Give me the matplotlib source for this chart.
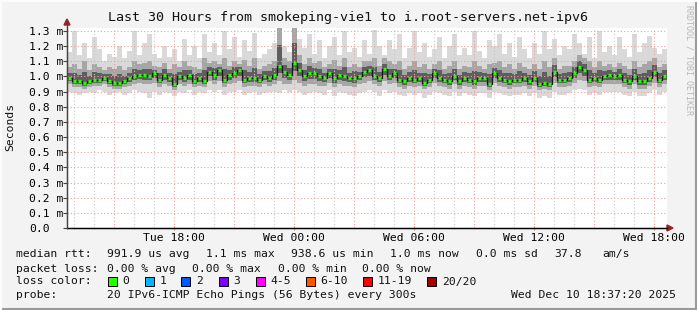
import matplotlib
matplotlib.use("Agg")
import matplotlib.pyplot as plt
import numpy as np
from matplotlib.patches import Rectangle, Polygon

# smokeping: 30 hours, one column per 15 minutes (values in ms)
# x axis is hours since Tue 12:40
median = [0.99, 0.97, 0.97, 0.96, 0.97, 0.98, 0.98, 0.99, 0.97, 0.96, 0.96, 0.97, 0.99, 1.00, 1.01, 1.01, 1.00, 1.02, 0.98, 1.01,
          0.99, 0.95, 1.00, 0.99, 1.01, 0.97, 0.99, 0.97, 1.03, 1.01, 1.04, 0.98, 1.01, 1.02, 1.04, 0.98, 0.99, 0.99, 0.98, 1.00,
          0.99, 1.01, 1.07, 1.03, 1.01, 1.09, 1.04, 1.00, 1.02, 1.02, 1.00, 0.99, 1.02, 0.99, 1.01, 1.00, 0.99, 0.99, 1.00, 1.03,
          1.04, 1.00, 0.99, 1.05, 1.00, 1.02, 0.98, 0.97, 0.99, 0.98, 0.99, 0.96, 0.98, 1.02, 0.99, 0.98, 0.97, 1.00, 0.97, 0.99,
          0.98, 0.97, 0.99, 0.99, 0.95, 1.02, 0.99, 0.98, 0.97, 0.98, 0.98, 0.99, 0.97, 0.99, 0.95, 0.96, 0.95, 1.03, 0.98, 0.98,
          0.99, 1.02, 1.06, 1.04, 0.98, 0.99, 0.98, 1.00, 1.01, 1.00, 1.01, 0.98, 0.97, 1.00, 0.97, 0.97, 0.99, 1.03, 0.98, 1.00]

smoke_max = [1.16, 1.30, 1.14, 1.22, 1.12, 1.26, 1.18, 1.10, 1.15, 1.13, 1.20, 1.12, 1.17, 1.30, 1.14, 1.22, 1.28, 1.15, 1.12, 1.20,
             1.13, 1.18, 1.10, 1.25, 1.14, 1.20, 1.12, 1.28, 1.16, 1.22, 1.14, 1.30, 1.18, 1.26, 1.13, 1.24, 1.17, 1.29, 1.12, 1.15,
             1.18, 1.22, 1.35, 1.20, 1.16, 1.35, 1.25, 1.19, 1.28, 1.15, 1.24, 1.12, 1.20, 1.26, 1.14, 1.30, 1.16, 1.19, 1.13, 1.24,
             1.15, 1.31, 1.20, 1.14, 1.24, 1.18, 1.28, 1.12, 1.19, 1.30, 1.16, 1.22, 1.13, 1.18, 1.26, 1.12, 1.20, 1.28, 1.14, 1.19,
             1.14, 1.30, 1.17, 1.12, 1.24, 1.20, 1.28, 1.15, 1.22, 1.13, 1.26, 1.18, 1.12, 1.22, 1.15, 1.30, 1.18, 1.25, 1.14, 1.20,
             1.18, 1.28, 1.22, 1.15, 1.26, 1.12, 1.30, 1.16, 1.20, 1.14, 1.26, 1.18, 1.13, 1.28, 1.16, 1.22, 1.27, 1.19, 1.15, 1.18]

smoke_hi = [1.06, 1.08, 1.05, 1.10, 1.04, 1.08, 1.06, 1.04, 1.06, 1.05, 1.07, 1.04, 1.06, 1.10, 1.08, 1.09, 1.10, 1.07, 1.06, 1.09,
            1.05, 1.08, 1.06, 1.10, 1.07, 1.06, 1.05, 1.12, 1.09, 1.10, 1.08, 1.12, 1.07, 1.10, 1.08, 1.11, 1.07, 1.12, 1.05, 1.07,
            1.08, 1.10, 1.35, 1.12, 1.10, 1.35, 1.14, 1.08, 1.12, 1.09, 1.10, 1.06, 1.08, 1.11, 1.07, 1.12, 1.06, 1.08, 1.06, 1.10,
            1.10, 1.12, 1.07, 1.12, 1.10, 1.08, 1.10, 1.05, 1.07, 1.10, 1.06, 1.08, 1.05, 1.08, 1.10, 1.05, 1.07, 1.10, 1.05, 1.07,
            1.06, 1.10, 1.07, 1.05, 1.08, 1.09, 1.10, 1.06, 1.08, 1.05, 1.09, 1.06, 1.05, 1.08, 1.05, 1.10, 1.06, 1.12, 1.05, 1.07,
            1.07, 1.10, 1.14, 1.12, 1.10, 1.06, 1.10, 1.07, 1.08, 1.06, 1.09, 1.07, 1.05, 1.10, 1.06, 1.08, 1.10, 1.12, 1.06, 1.08]

smoke_lo = [0.95, 0.93, 0.93, 0.92, 0.93, 0.94, 0.94, 0.95, 0.93, 0.92, 0.92, 0.93, 0.94, 0.95, 0.96, 0.95, 0.95, 0.96, 0.93, 0.95,
            0.94, 0.91, 0.95, 0.94, 0.95, 0.93, 0.94, 0.93, 0.97, 0.95, 0.97, 0.93, 0.95, 0.96, 0.97, 0.93, 0.94, 0.94, 0.93, 0.95,
            0.94, 0.95, 0.97, 0.95, 0.95, 0.98, 0.96, 0.94, 0.95, 0.95, 0.94, 0.94, 0.96, 0.93, 0.95, 0.94, 0.94, 0.93, 0.95, 0.96,
            0.97, 0.95, 0.94, 0.97, 0.95, 0.96, 0.93, 0.92, 0.94, 0.93, 0.94, 0.92, 0.93, 0.96, 0.94, 0.93, 0.92, 0.95, 0.92, 0.94,
            0.93, 0.92, 0.94, 0.94, 0.91, 0.96, 0.94, 0.93, 0.92, 0.93, 0.93, 0.94, 0.92, 0.94, 0.91, 0.92, 0.91, 0.96, 0.93, 0.93,
            0.94, 0.96, 0.98, 0.97, 0.93, 0.94, 0.93, 0.95, 0.95, 0.95, 0.95, 0.93, 0.92, 0.95, 0.92, 0.92, 0.94, 0.96, 0.93, 0.95]

smoke_min = [0.90, 0.89, 0.88, 0.89, 0.90, 0.89, 0.91, 0.90, 0.88, 0.89, 0.90, 0.88, 0.89, 0.91, 0.90, 0.89, 0.86, 0.90, 0.88, 0.90,
             0.89, 0.87, 0.90, 0.89, 0.91, 0.88, 0.90, 0.89, 0.91, 0.90, 0.91, 0.88, 0.90, 0.90, 0.91, 0.88, 0.89, 0.90, 0.88, 0.89,
             0.90, 0.90, 0.89, 0.91, 0.90, 0.91, 0.90, 0.88, 0.89, 0.90, 0.89, 0.88, 0.91, 0.87, 0.90, 0.89, 0.88, 0.87, 0.89, 0.90,
             0.91, 0.90, 0.87, 0.91, 0.89, 0.90, 0.88, 0.87, 0.89, 0.88, 0.89, 0.86, 0.88, 0.90, 0.89, 0.88, 0.87, 0.90, 0.87, 0.89,
             0.88, 0.87, 0.89, 0.89, 0.86, 0.90, 0.89, 0.88, 0.87, 0.88, 0.88, 0.89, 0.87, 0.89, 0.86, 0.87, 0.86, 0.90, 0.88, 0.88,
             0.89, 0.91, 0.92, 0.91, 0.88, 0.89, 0.88, 0.90, 0.90, 0.90, 0.90, 0.88, 0.87, 0.90, 0.87, 0.87, 0.89, 0.91, 0.88, 0.90]

step_h = 0.25
xtick_pos = [5.333, 11.333, 17.333, 23.333, 29.333]
xtick_labels = ["Tue 18:00", "Wed 00:00", "Wed 06:00", "Wed 12:00", "Wed 18:00"]
ytick_vals = [0.0, 0.1, 0.2, 0.3, 0.4, 0.5, 0.6, 0.7, 0.8, 0.9, 1.0, 1.1, 1.2, 1.3]
ytick_labels = ["0.0"] + ["%.1f m" % v for v in ytick_vals[1:]]

loss_labels = ["0", "1", "2", "3", "4-5", "6-10", "11-19", "20/20"]
loss_colors = ["#26ff00", "#00b8ff", "#0059ff", "#7e00ff", "#ff00ff", "#ff5500", "#ff0000", "#a10000"]

W, H = 697, 310
mono = "DejaVu Sans Mono"
fig = plt.figure(figsize=(W / 100, H / 100), dpi=100)
fig.patch.set_facecolor("#f3f3f3")

def fx(px):
    return px / W

def fy(py):
    return 1 - py / H

ax = fig.add_axes([fx(67), fy(228), fx(600), 200 / H])
ax.set_facecolor("white")
ax.set_xlim(0, 30)
ax.set_ylim(0, 1.32)

xs = np.arange(len(median)) * step_h
med = np.array(median)
lo_in = np.array(smoke_lo)
hi_in = np.array(smoke_hi)

# smoke layers, light to dark
ax.bar(xs, np.array(smoke_max) - np.array(smoke_min), bottom=smoke_min, width=step_h,
       align="edge", color="#d9d9d9", linewidth=0, zorder=2)
ax.bar(xs, hi_in - lo_in, bottom=lo_in, width=step_h,
       align="edge", color="#a6a6a6", linewidth=0, zorder=3)
mid_lo = (lo_in + med) / 2
mid_hi = (hi_in + med) / 2
ax.bar(xs, mid_hi - mid_lo, bottom=mid_lo, width=step_h,
       align="edge", color="#5e5e5e", linewidth=0, zorder=4)

# grid over the smoke
for h in np.arange(0.333, 30, 1.0):
    major = abs(((h - 2.333) / 3) - round((h - 2.333) / 3)) < 0.01
    ax.axvline(h, color="#f0a0a0" if major else "#c8c8c8", lw=0.8, ls=(0, (1, 2)), zorder=4.5)
for v in ytick_vals[1:]:
    ax.axhline(v, color="#f0a0a0", lw=0.8, ls=(0, (1, 2)), zorder=4.5)

# median line: black connectors, green dots
ax.step(np.append(xs, 30), np.append(med, med[-1]), where="post", color="#1a1a1a", lw=0.9, zorder=5)
ax.hlines(med, xs + 0.05, xs + step_h - 0.06, color=loss_colors[0], lw=2.4, zorder=6)

for s in ["top", "right"]:
    ax.spines[s].set_visible(False)
ax.spines["bottom"].set_color("black")
ax.spines["left"].set_color("#444444")
ax.spines["bottom"].set_zorder(8)

ax.set_xticks(xtick_pos)
ax.set_xticklabels(xtick_labels, fontfamily=mono, fontsize=8.2)
ax.set_xticks(np.arange(0.333, 30, 1.0), minor=True)
ax.tick_params(axis="x", which="major", length=3, direction="inout", color="#e08080", pad=2)
ax.tick_params(axis="x", which="minor", length=2, direction="inout", color="#aaaaaa")

ax.set_yticks(ytick_vals)
ax.set_yticklabels(ytick_labels, fontfamily=mono, fontsize=8.2)
ax.tick_params(axis="y", length=3, direction="out", color="#444444", pad=26.6 - 3 * 0.72)
for lab in ax.get_yticklabels():
    lab.set_horizontalalignment("left")

fig.text(fx(10), fy(127), "Seconds", rotation=90, ha="center", va="center",
         fontfamily=mono, fontsize=8.2, color="#111111")

# axis extensions and arrows
fig.lines.append(plt.Line2D([fx(67), fx(667)], [fy(228), fy(228)], color="black", lw=1, transform=fig.transFigure))
fig.lines.append(plt.Line2D([fx(67), fx(67)], [fy(228), fy(22)], color="#444444", lw=1, transform=fig.transFigure))
fig.patches.append(Polygon([[fx(667), fy(225)], [fx(673), fy(228)], [fx(667), fy(231)]],
                           closed=True, color="#a02020", transform=fig.transFigure))
fig.patches.append(Polygon([[fx(64), fy(25)], [fx(67), fy(19)], [fx(70), fy(25)]],
                           closed=True, color="#a02020", transform=fig.transFigure))

fig.text(0.5, fy(18), "Last 30 Hours from smokeping-vie1 to i.root-servers.net-ipv6",
         ha="center", va="center", fontfamily=mono, fontsize=9.6, color="#111111")
fig.text(fx(689), fy(5), "RRDTOOL / TOBI OETIKER", rotation=270, ha="center", va="top",
         fontfamily=mono, fontsize=6.0, color="#b8b8b8")

def t(px, py, s, **kw):
    fig.text(fx(px), fy(py), s, va="center", fontfamily=mono, fontsize=8.2, color="#111111", **kw)

row1, row2, row3, row4 = 254, 268.5, 281.5, 295
t(16, row1, "median rtt:")
t(107.3, row1, "991.9 us avg")
t(206.1, row1, "1.1 ms max")
t(291.3, row1, "938.6 us min")
t(390.5, row1, "1.0 ms now")
t(476.1, row1, "0.0 ms sd")
t(554.2, row1, "37.8")
t(602.7, row1, "am/s")

t(16, row2, "packet loss:")
t(107.3, row2, "0.00 % avg")
t(191.6, row2, "0.00 % max")
t(277.6, row2, "0.00 % min")
t(362.3, row2, "0.00 % now")

t(16, row3, "loss color:")
box_x = [107.8, 144.8, 181, 218.5, 255.5, 305.8, 363.2, 426.7]
lab_x = [122.7, 159.4, 196, 233, 270, 320, 377.7, 441.7]
for bx, lx, lab, col in zip(box_x, lab_x, loss_labels, loss_colors):
    fig.patches.append(Rectangle((fx(bx), fy(row3 + 4.5)), fx(9), 9 / H, facecolor=col,
                                 edgecolor="black", lw=0.7, transform=fig.transFigure))
    t(lx, row3, lab)

t(16, row4, "probe:")
t(107.3, row4, "20 IPv6-ICMP Echo Pings (56 Bytes) every 300s")
t(676, row4, "Wed Dec 10 18:37:20 2025", ha="right")

# frame
fig.lines.append(plt.Line2D([0, 1], [fy(309), fy(309)], color="#9a9a9a", lw=1.5, transform=fig.transFigure))
fig.lines.append(plt.Line2D([fx(696), fx(696)], [0, 1], color="#9a9a9a", lw=1.5, transform=fig.transFigure))
fig.lines.append(plt.Line2D([0, 1], [fy(0.5), fy(0.5)], color="#fcfcfc", lw=1.5, transform=fig.transFigure))
fig.lines.append(plt.Line2D([fx(0.5), fx(0.5)], [0, 1], color="#fcfcfc", lw=1.5, transform=fig.transFigure))

fig.savefig("out.png", dpi=100, facecolor=fig.get_facecolor())
